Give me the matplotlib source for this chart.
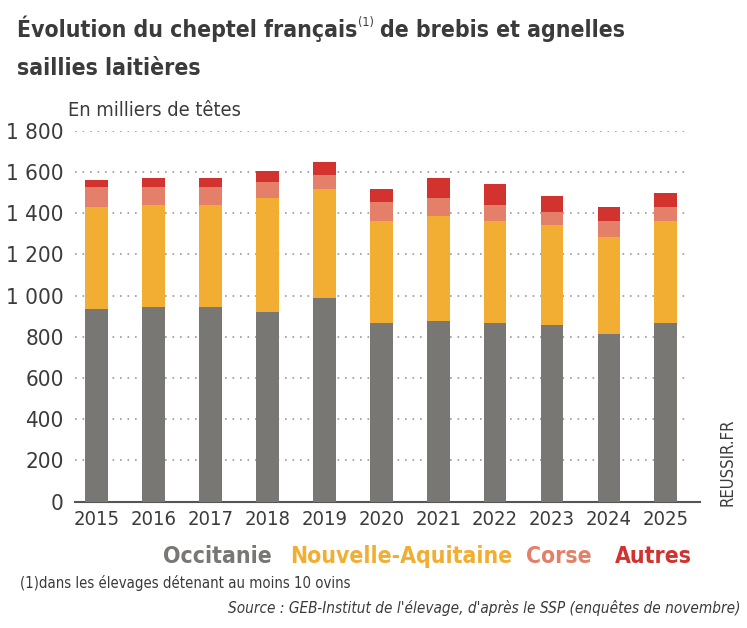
import numpy as np
import matplotlib.pyplot as plt
from matplotlib import font_manager
from matplotlib.font_manager import FontProperties

# Data (thousands of heads)
years = ['2015', '2016', '2017', '2018', '2019', '2020', '2021', '2022', '2023', '2024', '2025']
occitanie = [934, 946, 946, 921, 988, 868, 878, 868, 857, 813, 868]
nouvelle_aquitaine = [496, 495, 493, 552, 529, 495, 508, 495, 484, 471, 495]
corse = [98, 87, 89, 78, 68, 89, 87, 78, 66, 79, 67]
autres = [33, 44, 44, 55, 65, 65, 99, 99, 78, 65, 66]
series_names = ['Occitanie', 'Nouvelle-Aquitaine', 'Corse', 'Autres']
colors = ['#787774', '#F2AE32', '#E4806A', '#D2332E']
yticks = [0, 200, 400, 600, 800, 1000, 1200, 1400, 1600, 1800]

# look for a narrow / condensed face, else fall back to DejaVu Sans
reg_file, bold_file, ital_file = None, None, None
for f in font_manager.fontManager.ttflist:
    n = f.fname.lower()
    if 'narrow' in n or 'condensed' in n:
        slanted = 'oblique' in n or 'italic' in n
        if 'bold' in n:
            if not slanted:
                bold_file = bold_file or f.fname
        elif slanted:
            ital_file = ital_file or f.fname
        else:
            reg_file = reg_file or f.fname
narrow = reg_file is not None and bold_file is not None
if narrow:
    fp_reg = FontProperties(fname=reg_file)
    fp_bold = FontProperties(fname=bold_file)
    fp_ital = FontProperties(fname=ital_file) if ital_file else FontProperties(fname=reg_file)
else:
    fp_reg = FontProperties(family='DejaVu Sans')
    fp_bold = FontProperties(family='DejaVu Sans', weight='bold')
    fp_ital = FontProperties(family='DejaVu Sans', style='italic')
k = 1.0 if narrow else 0.85

dark = '#3b3b3b'
fig = plt.figure(figsize=(7.47, 6.28), dpi=100)
ax = fig.add_axes([75 / 747, 1 - 501.5 / 628, 625 / 747, (501.5 - 130.7) / 628])

x = np.arange(len(years))
bottom = np.zeros(len(years))
for vals, c in zip([occitanie, nouvelle_aquitaine, corse, autres], colors):
    ax.bar(x, vals, width=0.4, bottom=bottom, color=c, zorder=3)
    bottom += np.array(vals)

ax.set_xlim(-0.38, 10.6)
ax.set_ylim(0, 1800)
ax.set_yticks(yticks)
ax.set_yticklabels([f'{v:,}'.replace(',', ' ') for v in yticks])
ax.set_xticks(x)
ax.set_xticklabels(years)
for lab in ax.get_yticklabels():
    lab.set_fontproperties(fp_reg)
    lab.set_fontsize(16 * k)
    lab.set_color(dark)
for lab in ax.get_xticklabels():
    lab.set_fontproperties(fp_reg)
    lab.set_fontsize(14.5 * k)
    lab.set_color(dark)
ax.tick_params(axis='y', length=0, pad=8)
ax.tick_params(axis='x', length=0, pad=6)
for v in yticks[1:]:
    ax.plot([-0.38, 10.42], [v, v], color='#9a9a9a', linestyle=(0, (1, 3.5)), linewidth=1.2, zorder=1)
for s in ['top', 'right', 'left']:
    ax.spines[s].set_visible(False)
ax.spines['bottom'].set_color('#555555')
ax.spines['bottom'].set_linewidth(1.5)

fig.canvas.draw()
r = fig.canvas.get_renderer()


def put(xp, yp, s, fp, size, color=dark, **kw):
    t = fig.text(xp / 747, 1 - yp / 628, s, fontproperties=fp, fontsize=size, color=color,
                 va='baseline', **kw)
    return t.get_window_extent(r).x1


# title with superscript (1)
xe = put(17, 37, 'Évolution du cheptel français', fp_bold, 16.5 * k)
xe = put(xe + 1, 26, '(1)', fp_reg, 9 * k)
put(xe + 6, 37, 'de brebis et agnelles', fp_bold, 16.5 * k)
put(17, 75, 'saillies laitières', fp_bold, 16.5 * k)
put(68, 116, 'En milliers de têtes', fp_reg, 14.3 * k)

# legend as coloured words
for name, c, xp in zip(series_names, colors, [163, 290, 526, 615]):
    put(xp, 563, name, fp_bold, 16.5 * k, color=c)

put(20, 588, '(1)dans les élevages détenant au moins 10 ovins', fp_reg, 10.7 * k)
fig.text(740 / 747, 1 - 613 / 628,
         "Source : GEB-Institut de l'élevage, d'après le SSP (enquêtes de novembre)",
         fontproperties=fp_ital, fontsize=11 * k, color=dark,
         va='baseline', ha='right')
fig.text(728 / 747, 1 - 462 / 628, 'REUSSIR.FR', fontproperties=fp_reg, fontsize=12 * k,
         color=dark, rotation=90, ha='center', va='center')

fig.savefig('out.png', dpi=100)
